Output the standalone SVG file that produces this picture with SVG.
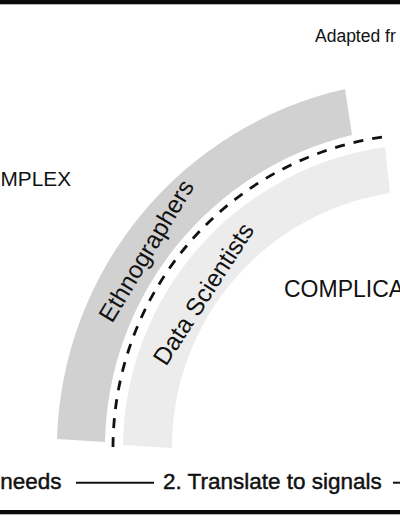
<svg xmlns="http://www.w3.org/2000/svg" width="400" height="516" viewBox="0 0 400 516">
  <style>
    .lbl { font-family: "Liberation Sans", Arial, sans-serif; fill: #111; }
    .big { font-size: 22.5px; }
    .band-label { font-size: 24.5px; }
    .step { font-size: 22.5px; stroke: #111; stroke-width: 0.45; }
    .rule { stroke: #111; stroke-width: 2; fill: none; }
  </style>
  <rect x="0" y="0" width="400" height="516" fill="#ffffff"/>
  <rect x="0" y="0" width="400" height="4.3" fill="#0a0a0a"/>
  <rect x="0" y="510" width="400" height="4.3" fill="#0a0a0a"/>

  <g id="ethnographers">
    <path d="M 57 439 A 370 370 0 0 1 345 89 L 352 135 A 322 322 0 0 0 105 442 Z" fill="#d1d1d1"/>
    <text class="lbl band-label" transform="translate(112 324) rotate(-59)">Ethnographers</text>
  </g>

  <g id="data-scientists">
    <path d="M 123 445 A 305 305 0 0 1 385 147 L 390 193 A 257 257 0 0 0 172 448 Z" fill="#ececec"/>
    <text class="lbl band-label" transform="translate(166 367) rotate(-57)">Data Scientists</text>
  </g>

  <g id="connectors">
    <path d="M 113 447 A 314 314 0 0 1 383 137" fill="none" stroke="#111" stroke-width="2.8" stroke-dasharray="10 9"/>
    <line class="rule" x1="76" y1="482.7" x2="154" y2="482.7"/>
    <line class="rule" x1="393" y1="482.7" x2="400" y2="482.7"/>
  </g>

  <g id="source-note">
    <text class="lbl" x="315" y="42" font-size="17.5">Adapted fr</text>
  </g>
  <g id="complex">
    <text class="lbl" x="0.5" y="186" font-size="20.8">MPLEX</text>
  </g>
  <g id="complicated">
    <text class="lbl" x="284" y="297" font-size="23">COMPLICA</text>
  </g>
  <g id="step-1">
    <text class="lbl step" x="61.5" y="488.5" text-anchor="end">needs</text>
  </g>
  <g id="step-2">
    <text class="lbl step" x="163" y="488.5">2. Translate to signals</text>
  </g>
</svg>
